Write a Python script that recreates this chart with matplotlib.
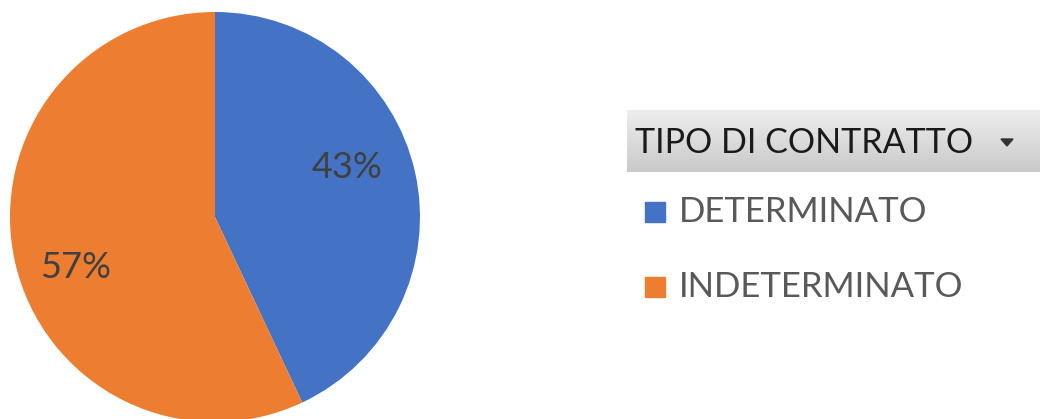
import numpy as np
import matplotlib
matplotlib.use("Agg")
import matplotlib.pyplot as plt
from matplotlib.patches import Rectangle, Polygon

# ---- data ----
categories = ["DETERMINATO", "INDETERMINATO"]
values = [43, 57]
colors = ["#4472C4", "#ED7D31"]
legend_title = "TIPO DI CONTRATTO"

# label placement (pixels, from top-left) - layout only
label_pos = [(347, 168), (76, 268)]

W, H = 1040, 419
fig = plt.figure(figsize=(W / 100, H / 100), dpi=100)
ax = fig.add_axes([0, 0, 1, 1])

FONT = "Lato"

# pie (pixel coordinates, y measured from bottom)
cx, cy, r = 215, H - 217, 205
wedges, _, autotexts = ax.pie(
    values, colors=colors, startangle=90, counterclock=False,
    center=(cx, cy), radius=r, autopct="%1.0f%%", pctdistance=0.7,
    textprops=dict(fontsize=26, color="#404040", family=FONT),
    wedgeprops=dict(linewidth=0), frame=True)
for t, (px, py) in zip(autotexts, label_pos):
    t.set_position((px, H - py))

# legend header with gradient
hx0, hx1, hy0, hy1 = 627, 1040, H - 172, H - 110
grad = np.linspace(0.79, 0.93, 64).reshape(-1, 1)
ax.imshow(np.repeat(grad[:, :, None], 3, axis=2) * np.ones((1, 2, 3)),
          extent=(hx0, hx1, hy0, hy1), origin="lower", aspect="auto", zorder=1)
ax.text(635, (hy0 + hy1) / 2 - 2, legend_title, fontsize=24.5, family=FONT,
        color="#1a1a1a", va="center", ha="left", zorder=2)
ax.add_patch(Polygon([[1001, H - 139], [1013, H - 139], [1007, H - 146]],
                     closed=True, color="#333333", zorder=2))

# legend entries
ys = [H - 212, H - 287]
for lab, col, y in zip(categories, colors, ys):
    ax.add_patch(Rectangle((645, y - 10), 20, 20, color=col, zorder=2))
    ax.text(679, y, lab, fontsize=25, family=FONT, color="#595959",
            va="center", ha="left", zorder=2)

ax.set_xlim(0, W)
ax.set_ylim(0, H)
ax.set_aspect("equal")
ax.axis("off")

fig.savefig("out.png", dpi=100)
